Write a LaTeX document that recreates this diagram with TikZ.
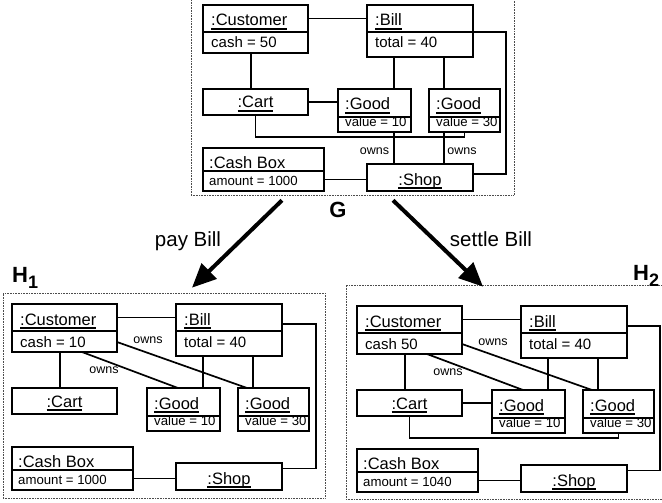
\documentclass[tikz,border=0pt]{standalone}
\usepackage{fontspec}
\setmainfont{Liberation Sans}
\usetikzlibrary{arrows.meta}

\newsavebox{\namebox}
\newcommand{\uname}[1]{\sbox{\namebox}{#1}\rlap{\vrule height -2.3pt depth 4.3pt width \wd\namebox}\usebox{\namebox}}
\newcommand{\hlsub}[1]{\raisebox{-6pt}{\fontsize{18}{20}\selectfont #1}}

\newcommand{\objgraph}[3]{%
  \node[objbox, minimum width=105, minimum height=48] (#1cust) at (0,0) {};
  \draw[divider] ([yshift=-27pt]#1cust.north west) -- ([yshift=-27pt]#1cust.north east);
  \node[objname] at (8,21) {\uname{:Customer}};
  \node[attr] at (8,43) {#2};

  \node[objbox, minimum width=106, minimum height=52] (#1bill) at (164,0) {};
  \draw[divider] ([yshift=-27pt]#1bill.north west) -- ([yshift=-27pt]#1bill.north east);
  \node[objname] at (172,21) {\uname{:Bill}};
  \node[attr] at (172,43) {total = 40};

  \node[objbox, minimum width=105, minimum height=26] (#1cart) at (0,84) {};
  \node[objcentre] at (52.5,103) {\uname{:Cart}};

  \node[objbox, minimum width=73, minimum height=43] (#1gooda) at (135,84) {};
  \draw[divider] ([yshift=-28pt]#1gooda.north west) -- ([yshift=-28pt]#1gooda.north east);
  \node[objname] at (142,105) {\uname{:Good}};
  \node[smallattr] at (142,121.5) {value = 10};

  \node[objbox, minimum width=71, minimum height=43] (#1goodb) at (226,84) {};
  \draw[divider] ([yshift=-28pt]#1goodb.north west) -- ([yshift=-28pt]#1goodb.north east);
  \node[objname] at (233,105) {\uname{:Good}};
  \node[smallattr] at (233,121.5) {value = 30};

  \node[objbox, minimum width=121, minimum height=43] (#1cash) at (0,143) {};
  \draw[divider] ([yshift=-23pt]#1cash.north west) -- ([yshift=-23pt]#1cash.north east);
  \node[objname] at (6,163) {\uname{:Cash Box}};
  \node[smallattr] at (6,180) {#3};

  \node[objbox, minimum width=106, minimum height=27] (#1shop) at (164,159) {};
  \node[objcentre] at (217,180) {\uname{:Shop}};
}

\begin{document}
\begin{tikzpicture}[x=1pt, y=-1pt,
    every node/.style={inner sep=0pt},
    objbox/.style={draw, line width=1.8pt, anchor=north west, outer sep=0pt},
    divider/.style={line width=1.6pt},
    link/.style={line width=1.7pt},
    objname/.style={anchor=base west, font=\fontsize{16.5}{18}\selectfont},
    objcentre/.style={anchor=base, font=\fontsize{16.5}{18}\selectfont},
    attr/.style={anchor=base west, font=\fontsize{15}{17}\selectfont},
    smallattr/.style={anchor=base west, font=\fontsize{13.2}{15}\selectfont},
    ownslabel/.style={font=\fontsize{12.5}{14}\selectfont},
    graphframe/.style={draw=black!70, densely dotted, line width=0.6pt},
    transition/.style={line width=4pt, -{Triangle[length=24pt, width=21pt]}},
    rulelabel/.style={anchor=base, font=\fontsize{20.5}{24}\selectfont},
    graphlabel/.style={font=\fontsize{22}{26}\selectfont\bfseries}]

  \useasboundingbox (0,0) rectangle (662,503);
  \clip (0,0) rectangle (662,503);

  \node[graphframe, minimum width=323, minimum height=200] (gframe) at (352.5,95) {};
  \node[graphframe, minimum width=322, minimum height=205] (hone) at (164,395.5) {};
  \node[graphframe, minimum width=354, minimum height=214] (htwo) at (523,392) {};

  \begin{scope}[shift={(203,5)}]
    \objgraph{g}{cash = 50}{amount = 1000}
    \draw[link] ([yshift=-13.5pt]gcust.north east) -- ([yshift=-13.5pt]gbill.north west);
    \draw[link] ([xshift=-4.5pt]gcust.south) -- ([xshift=-4.5pt]gcart.north);
    \draw[link] (gcart.east) -- (gcart.east -| ggooda.west);
    \draw[link] ([xshift=-26pt]gbill.south) -- ([xshift=-26pt]gbill.south |- ggooda.north);
    \draw[link] ([xshift=24pt]gbill.south) -- ([xshift=24pt]gbill.south |- ggoodb.north);
    \draw[link] (gcart.south) -- ++(0,22) -| (ggoodb.south);
    \draw[link] ([xshift=-26pt]gshop.north) -- ([xshift=-26pt]gshop.north |- ggooda.south);
    \draw[link] ([xshift=24pt]gshop.north) -- ([xshift=24pt]gshop.north |- ggoodb.south);
    \node[ownslabel] (gownsa) at (171.5,146) {owns};
    \node[ownslabel] (gownsb) at (259,146) {owns};
    \draw[link] ([yshift=-27pt]gbill.north east) -- ++(33,0) |- ([yshift=3.5pt]gshop.east);
    \draw[link] ([yshift=-10pt]gcash.east) -- ([yshift=-10pt]gcash.east -| gshop.west);
  \end{scope}

  \begin{scope}[shift={(12,304)}]
    \objgraph{a}{cash = 10}{amount = 1000}
    \draw[link] ([yshift=-13.5pt]acust.north east) -- ([yshift=-13.5pt]abill.north west);
    \draw[link] ([xshift=-4.5pt]acust.south) -- ([xshift=-4.5pt]acart.north);
    \draw[link] ([xshift=-26pt]abill.south) -- ([xshift=-26pt]abill.south |- agooda.north);
    \draw[link] ([xshift=24pt]abill.south) -- ([xshift=24pt]abill.south |- agoodb.north);
    \draw[link] ([xshift=17.5pt]acust.south) -- ([xshift=-5.5pt]agooda.north);
    \draw[link] ([yshift=-14pt]acust.east) -- ([xshift=-26.5pt]agoodb.north);
    \node[ownslabel] (aownsa) at (92,66.5) {owns};
    \node[ownslabel] (aownsb) at (136,36.5) {owns};
    \draw[link] ([yshift=-20pt]abill.north east) -- ++(34,0) |- ([yshift=8pt]ashop.east);
    \draw[link] ([yshift=-10pt]acash.east) -- ([yshift=-10pt]acash.east -| ashop.west);
  \end{scope}

  \begin{scope}[shift={(357,306)}]
    \objgraph{b}{cash 50}{amount = 1040}
    \draw[link] ([yshift=-13.5pt]bcust.north east) -- ([yshift=-13.5pt]bbill.north west);
    \draw[link] ([xshift=-4.5pt]bcust.south) -- ([xshift=-4.5pt]bcart.north);
    \draw[link] (bcart.east) -- (bcart.east -| bgooda.west);
    \draw[link] ([xshift=-26pt]bbill.south) -- ([xshift=-26pt]bbill.south |- bgooda.north);
    \draw[link] ([xshift=24pt]bbill.south) -- ([xshift=24pt]bbill.south |- bgoodb.north);
    \draw[link] (bcart.south) -- ++(0,22) -| (bgoodb.south);
    \draw[link] ([xshift=17.5pt]bcust.south) -- ([xshift=-5.5pt]bgooda.north);
    \draw[link] ([yshift=-14pt]bcust.east) -- ([xshift=-26.5pt]bgoodb.north);
    \node[ownslabel] (bownsa) at (91,66.5) {owns};
    \node[ownslabel] (bownsb) at (136,36.5) {owns};
    \draw[link] ([yshift=-20pt]bbill.north east) -- ++(33,0) |- ([yshift=8pt]bshop.east);
    \draw[link] ([yshift=-10pt]bcash.east) -- ([yshift=-10pt]bcash.east -| bshop.west);
  \end{scope}

  \draw[transition] ([xshift=-70.5pt, yshift=-5pt]gframe.south) -- ([xshift=28pt, yshift=5pt]hone.north);
  \draw[transition] ([xshift=40.5pt, yshift=-5pt]gframe.south) -- ([xshift=-40pt, yshift=-2pt]htwo.north);

  \node[rulelabel] (paylabel) at (188,246) {pay Bill};
  \node[rulelabel] (settlelabel) at (491,246) {settle Bill};
  \node[graphlabel, anchor=base] (glabel) at (338,217) {G};
  \node[graphlabel, anchor=base west] (honelabel) at (12,282) {H\hlsub{1}};
  \node[graphlabel, anchor=base west] (htwolabel) at (633,280) {H\hlsub{2}};
\end{tikzpicture}
\end{document}
